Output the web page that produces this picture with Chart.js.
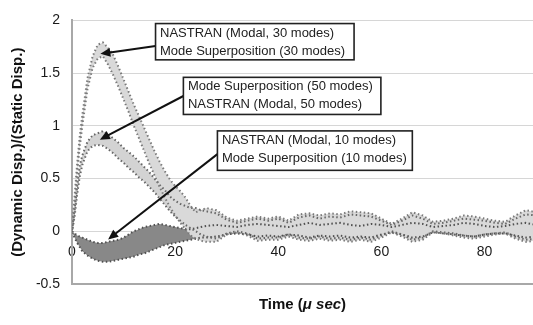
<!DOCTYPE html>
<html>
<head>
<meta charset="utf-8">
<script src="https://cdn.jsdelivr.net/npm/chart.js@4.4.1/dist/chart.umd.min.js"></script>
<style>
  html, body { margin: 0; padding: 0; background: #fff; }
  #wrap { width: 533px; height: 325px; position: relative; }
</style>
</head>
<body>
<div id="wrap"><canvas id="chart"></canvas></div>
<script>
// sample times (microseconds); finer steps while the response builds up
const timeUs = [0, 0.5, 1, 1.5, 2, 3, 4, 5, 6, 7, 8, 9, 10, 11, 12, 13, 14, 15, 16, 17, 18, 19, 20, 21, 22, 23, 24, 25, 26,
  28, 30, 32, 34, 36, 38, 40, 42, 44, 46, 48, 50, 52, 54, 56, 58, 60, 62, 64, 66, 68, 70, 72, 74, 76, 78, 80, 82, 84, 86, 88, 90];

// envelope of the oscillating response (top / bottom of each trace band)
const modes30Upper = [0.02, 0.33, 0.64, 0.9, 1.1, 1.45, 1.66, 1.77, 1.79, 1.74, 1.67, 1.56, 1.44, 1.32, 1.2, 1.09, 0.98, 0.87, 0.76, 0.66, 0.57, 0.49, 0.43, 0.38, 0.32, 0.24, 0.18, 0.2, 0.22,
  0.2, 0.13, 0.1, 0.12, 0.14, 0.12, 0.14, 0.1, 0.16, 0.17, 0.15, 0.17, 0.16, 0.19, 0.18, 0.17, 0.12, 0.07, 0.12, 0.18, 0.15, 0.09, 0.1, 0.12, 0.15, 0.14, 0.12, 0.1, 0.09, 0.15, 0.2, 0.18];
const modes30Lower = [-0.02, 0.25, 0.55, 0.8, 1.0, 1.35, 1.55, 1.64, 1.66, 1.58, 1.48, 1.37, 1.25, 1.13, 1.0, 0.88, 0.76, 0.64, 0.53, 0.42, 0.32, 0.23, 0.15, 0.08, 0.02, -0.04, -0.07, -0.09, -0.1,
  -0.1, -0.03, -0.01, -0.04, -0.09, -0.08, -0.08, -0.05, -0.08, -0.09, -0.07, -0.09, -0.08, -0.1, -0.08, -0.1, -0.06, -0.01, -0.05, -0.1, -0.08, -0.01, -0.02, -0.04, -0.06, -0.07, -0.05, -0.03, -0.02, -0.07, -0.1, -0.09];

const modes50Upper = [0.01, 0.2, 0.43, 0.62, 0.72, 0.85, 0.91, 0.93, 0.95, 0.92, 0.88, 0.84, 0.79, 0.75, 0.71, 0.66, 0.61, 0.56, 0.5, 0.44, 0.39, 0.33, 0.29, 0.26, 0.24, 0.22, 0.22, 0.2, 0.19,
  0.17, 0.11, 0.08, 0.1, 0.12, 0.1, 0.12, 0.08, 0.13, 0.15, 0.12, 0.14, 0.13, 0.16, 0.15, 0.14, 0.1, 0.06, 0.1, 0.15, 0.12, 0.07, 0.08, 0.1, 0.12, 0.11, 0.1, 0.08, 0.07, 0.12, 0.16, 0.15];
const modes50Lower = [-0.01, 0.14, 0.35, 0.52, 0.63, 0.76, 0.81, 0.82, 0.81, 0.78, 0.74, 0.69, 0.65, 0.6, 0.56, 0.51, 0.47, 0.42, 0.37, 0.31, 0.25, 0.19, 0.14, 0.1, 0.06, 0.03, 0.0, -0.03, -0.05,
  -0.07, -0.02, 0.0, -0.02, -0.07, -0.06, -0.06, -0.03, -0.06, -0.07, -0.05, -0.07, -0.06, -0.08, -0.06, -0.08, -0.04, 0.0, -0.03, -0.08, -0.06, 0.0, -0.01, -0.02, -0.04, -0.05, -0.03, -0.02, -0.01, -0.05, -0.08, -0.07];

const modes10Upper = [0.0, -0.02, -0.04, -0.05, -0.06, -0.08, -0.1, -0.11, -0.11, -0.1, -0.09, -0.08, -0.06, -0.03, 0.0, 0.02, 0.04, 0.05, 0.06, 0.07, 0.06, 0.05, 0.04, 0.03, 0.02, 0.02, 0.03, 0.04, 0.05,
  0.06, 0.05, 0.04, 0.06, 0.07, 0.06, 0.05, 0.04, 0.06, 0.08, 0.06, 0.07, 0.08, 0.06, 0.05, 0.07, 0.06, 0.04, 0.06, 0.08, 0.07, 0.04, 0.05, 0.06, 0.08, 0.07, 0.05, 0.04, 0.05, 0.07, 0.08, 0.06];
const modes10Lower = [-0.01, -0.06, -0.11, -0.15, -0.19, -0.23, -0.26, -0.28, -0.29, -0.29, -0.28, -0.27, -0.26, -0.25, -0.24, -0.22, -0.21, -0.19, -0.17, -0.15, -0.13, -0.12, -0.11, -0.1, -0.09, -0.08, -0.07, -0.06, -0.06,
  -0.05, -0.03, -0.02, -0.03, -0.05, -0.04, -0.05, -0.03, -0.04, -0.06, -0.04, -0.05, -0.04, -0.06, -0.05, -0.06, -0.03, -0.01, -0.03, -0.06, -0.05, -0.01, -0.02, -0.03, -0.04, -0.05, -0.03, -0.02, -0.02, -0.04, -0.06, -0.05];

const FONT = '"Liberation Sans", Arial, Helvetica, sans-serif';

// boxed labels with arrows; box = [tLeft, vTop, tRight, vBottom], arrows go from -> tip (data units)
const callouts = [
  { lines: ['NASTRAN (Modal, 30 modes)', 'Mode Superposition (30 modes)'], box: [16.2, 1.97, 54.7, 1.626], from: [16.2, 1.758], tip: [5.5, 1.683] },
  { lines: ['Mode Superposition (50 modes)', 'NASTRAN (Modal, 50 modes)'], box: [21.6, 1.46, 59.9, 1.108], from: [21.6, 1.283], tip: [5.4, 0.869] },
  { lines: ['NASTRAN (Modal, 10 modes)', 'Mode Superposition (10 modes)'], box: [28.2, 0.952, 66.0, 0.578], from: [28.2, 0.732], tip: [7.0, -0.077] },
];

function band(name, upper, lower, fillColor, edgeColor) {
  const pts = arr => arr.map((v, i) => ({ x: timeUs[i], y: v }));
  const edge = { borderColor: edgeColor, borderWidth: 2, borderDash: [1.5, 2.5], pointRadius: 0, tension: 0 };
  return [
    { label: name + ' max', data: pts(upper), fill: '+1', backgroundColor: fillColor, ...edge },
    { label: name + ' min', data: pts(lower), fill: false, ...edge },
  ];
}

const calloutPlugin = {
  id: 'callouts',
  afterDraw(chart) {
    const { ctx, chartArea } = chart;
    const sx = chart.scales.x, sy = chart.scales.y;
    ctx.save();
    callouts.forEach(c => {
      const fx = sx.getPixelForValue(c.from[0]), fy = sy.getPixelForValue(c.from[1]);
      const tx = sx.getPixelForValue(c.tip[0]), ty = sy.getPixelForValue(c.tip[1]);
      const a = Math.atan2(ty - fy, tx - fx);
      const len = 10, half = 4.5;
      ctx.strokeStyle = '#111';
      ctx.fillStyle = '#111';
      ctx.lineWidth = 2;
      ctx.beginPath();
      ctx.moveTo(fx, fy);
      ctx.lineTo(tx - Math.cos(a) * len * 0.8, ty - Math.sin(a) * len * 0.8);
      ctx.stroke();
      ctx.beginPath();
      ctx.moveTo(tx, ty);
      ctx.lineTo(tx - len * Math.cos(a) + half * Math.sin(a), ty - len * Math.sin(a) - half * Math.cos(a));
      ctx.lineTo(tx - len * Math.cos(a) - half * Math.sin(a), ty - len * Math.sin(a) + half * Math.cos(a));
      ctx.closePath();
      ctx.fill();

      const bx0 = sx.getPixelForValue(c.box[0]), by0 = sy.getPixelForValue(c.box[1]);
      const bx1 = sx.getPixelForValue(c.box[2]), by1 = sy.getPixelForValue(c.box[3]);
      ctx.fillStyle = '#fff';
      ctx.fillRect(bx0, by0, bx1 - bx0, by1 - by0);
      ctx.strokeStyle = '#222';
      ctx.lineWidth = 1.6;
      ctx.strokeRect(bx0, by0, bx1 - bx0, by1 - by0);
      ctx.fillStyle = '#222';
      ctx.font = '13px ' + FONT;
      ctx.textBaseline = 'middle';
      ctx.textAlign = 'left';
      c.lines.forEach((t, i) => ctx.fillText(t, bx0 + 4.5, by0 + 9.5 + i * 18));
    });

    // x axis title, "μ sec" set in italics
    const parts = [['Time (', 'bold 15px ' + FONT], ['\u03bc sec', 'italic bold 15px ' + FONT], [')', 'bold 15px ' + FONT]];
    let w = 0;
    parts.forEach(p => { ctx.font = p[1]; w += ctx.measureText(p[0]).width; });
    let x = (chartArea.left + chartArea.right) / 2 - w / 2;
    ctx.fillStyle = '#111';
    ctx.textBaseline = 'middle';
    parts.forEach(p => { ctx.font = p[1]; ctx.fillText(p[0], x, 305); x += ctx.measureText(p[0]).width; });
    ctx.restore();
  },
};

new Chart(document.getElementById('chart'), {
  type: 'line',
  data: {
    datasets: [
      ...band('30 modes', modes30Upper, modes30Lower, '#d9d9d9', '#7a7a7a'),
      ...band('50 modes', modes50Upper, modes50Lower, '#d3d3d3', '#666666'),
      ...band('10 modes', modes10Upper, modes10Lower, '#888888', '#505050'),
    ],
  },
  options: {
    responsive: true, maintainAspectRatio: false,
    animation: false,
    layout: { padding: { left: 5, top: 12, right: 0, bottom: 41 } },
    plugins: {
      legend: { display: false },
      tooltip: { enabled: false },
      filler: { drawTime: 'beforeDatasetsDraw' },
    },
    scales: {
      x: {
        type: 'linear',
        position: { y: 0 },
        min: 0, max: 89.4,
        grid: { display: false, drawTicks: false },
        border: { display: false },
        ticks: { stepSize: 20, includeBounds: false, padding: 12, color: '#1a1a1a', font: { family: FONT, size: 14 }, maxRotation: 0 },
      },
      y: {
        min: -0.5, max: 2,
        afterFit: s => { s.width = 67; },
        grid: {
          drawTicks: false,
          color: c => c.tick && c.tick.value === -0.5 ? '#a8a8a8' : '#d6d6d6',
          lineWidth: c => c.tick && c.tick.value === -0.5 ? 2 : 1,
        },
        border: { display: true, color: '#a8a8a8', width: 2 },
        ticks: { stepSize: 0.5, padding: 12, color: '#1a1a1a', font: { family: FONT, size: 14 }, callback: v => String(v) },
        title: { display: true, text: '(Dynamic Disp.)/(Static Disp.)', color: '#111', font: { family: FONT, size: 15, weight: 'bold' } },
      },
    },
  },
  plugins: [calloutPlugin],
});
</script>
</body>
</html>
